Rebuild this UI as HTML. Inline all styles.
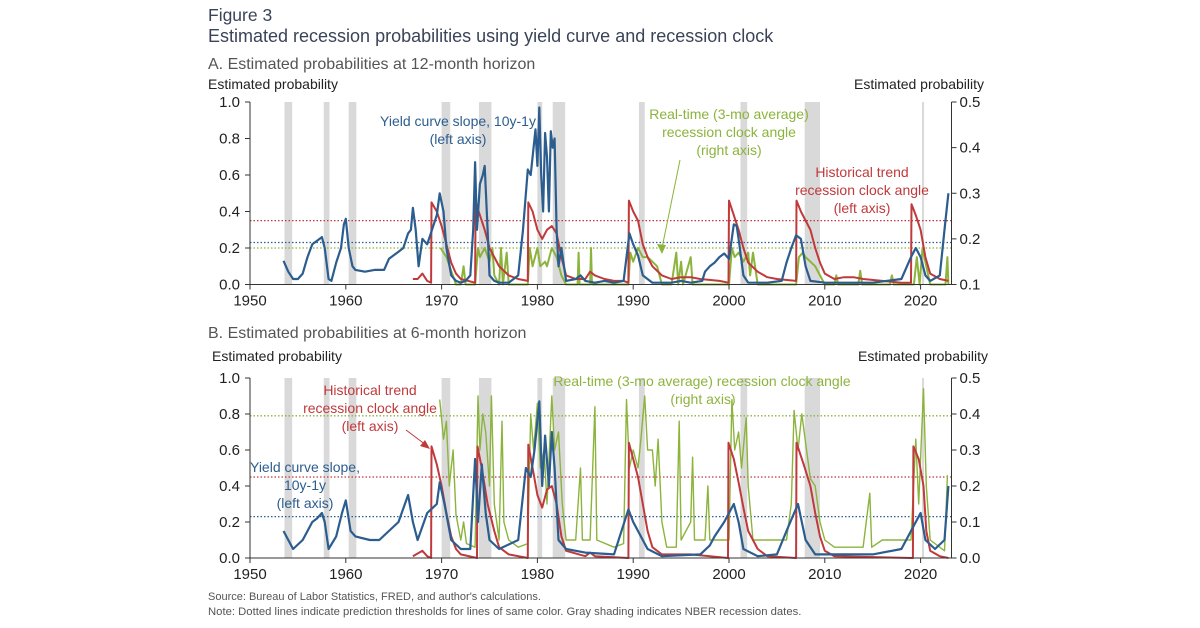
<!DOCTYPE html>
<html><head><meta charset="utf-8"><style>
html,body{margin:0;padding:0;background:#fff;}
svg{display:block;font-family:"Liberation Sans",sans-serif;}
</style></head><body>
<svg id="c" width="1200" height="628" viewBox="0 0 1200 628">
<text x="208" y="21" font-size="17.5" fill="#3a4358">Figure 3</text>
<text x="208" y="42" font-size="18" fill="#3a4358">Estimated recession probabilities using yield curve and recession clock</text>
<text x="208" y="69" font-size="16" fill="#555">A. Estimated probabilities at 12-month horizon</text>
<text x="208" y="338" font-size="16" fill="#555">B. Estimated probabilities at 6-month horizon</text>
<text x="208" y="89" font-size="14" fill="#222">Estimated probability</text>
<text x="984" y="89" font-size="14" fill="#222" text-anchor="end">Estimated probability</text>
<text x="212" y="361" font-size="14" fill="#222">Estimated probability</text>
<text x="988" y="361" font-size="14" fill="#222" text-anchor="end">Estimated probability</text>
<text x="208" y="600" font-size="11" fill="#555">Source: Bureau of Labor Statistics, FRED, and author's calculations.</text>
<text x="208" y="615" font-size="11.3" fill="#555">Note: Dotted lines indicate prediction thresholds for lines of same color. Gray shading indicates NBER recession dates.</text>
<g id="gA"></g><g id="gB"></g>
</svg>
<script>
const recessions=[[1953.6,1954.4],[1957.7,1958.3],[1960.3,1961.1],[1970.0,1970.9],[1973.9,1975.2],[1980.0,1980.5],[1981.6,1982.9],[1990.6,1991.2],[2001.2,2001.9],[2007.9,2009.5],[2020.15,2020.35]];
const xTicks=[1950,1960,1970,1980,1990,2000,2010,2020];
const leftTicks=[0,0.2,0.4,0.6,0.8,1.0];
const rightTicksA=[0.1,0.2,0.3,0.4,0.5];
const rightTicksB=[0,0.1,0.2,0.3,0.4,0.5];
// Panel A series [year, value]
const blueA=[[1953.5,.13],[1954,.07],[1954.5,.03],[1955,.03],[1955.5,.06],[1956,.15],[1956.5,.22],[1957,.24],[1957.5,.26],[1957.8,.2],[1958.2,.03],[1958.5,.02],[1959,.12],[1959.5,.2],[1959.8,.33],[1960,.36],[1960.3,.2],[1960.7,.1],[1961,.08],[1962,.07],[1963,.08],[1964,.08],[1964.5,.14],[1965,.16],[1965.5,.18],[1966,.2],[1966.5,.28],[1966.8,.3],[1967,.42],[1967.3,.3],[1967.6,.1],[1968,.25],[1968.5,.22],[1969,.3],[1969.5,.38],[1969.8,.5],[1970.2,.4],[1970.5,.2],[1971,.05],[1971.5,.02],[1972,.01],[1972.5,.02],[1973,.05],[1973.3,.3],[1973.5,.67],[1973.7,.3],[1974,.55],[1974.3,.6],[1974.5,.65],[1974.8,.3],[1975,.05],[1975.5,.02],[1976,.01],[1977,.01],[1978,.05],[1978.5,.3],[1979,.63],[1979.3,.6],[1979.5,.7],[1979.8,.85],[1980,.65],[1980.2,.97],[1980.4,.6],[1980.6,.4],[1980.8,.83],[1981,.7],[1981.2,.4],[1981.4,.84],[1981.6,.75],[1981.8,.8],[1982,.3],[1982.2,.1],[1982.5,.2],[1983,.02],[1984,.03],[1984.5,.05],[1985,.02],[1986,.01],[1987,.02],[1988,.01],[1989,.02],[1989.6,.28],[1990,.22],[1990.5,.16],[1991,.05],[1992,.01],[1994,.01],[1995,.02],[1996,.01],[1997.2,.02],[1997.5,.07],[1998,.1],[1998.5,.12],[1999,.15],[1999.5,.17],[2000,.14],[2000.5,.33],[2000.8,.32],[2001,.25],[2001.5,.05],[2002,.01],[2004,.01],[2005.5,.02],[2006,.12],[2006.5,.2],[2007,.27],[2007.5,.25],[2008,.1],[2008.5,.02],[2010,.01],[2015,.01],[2018,.03],[2019,.15],[2019.5,.2],[2020,.15],[2020.5,.05],[2021,.02],[2022,.05],[2022.5,.3],[2022.9,.5]];
const redA=[[1967,.03],[1967.5,.03],[1968,.06],[1968.5,.02],[1968.9,.01],[1968.95,.45],[1969.5,.4],[1970,.32],[1970.5,.22],[1971,.12],[1971.5,.06],[1972,.03],[1973.5,.01],[1973.55,.45],[1974,.38],[1974.5,.3],[1975,.2],[1975.5,.15],[1976,.1],[1977,.05],[1978,.03],[1979,.02],[1979.05,.45],[1979.5,.4],[1980,.3],[1980.5,.25],[1981,.3],[1981.5,.32],[1982,.28],[1982.5,.15],[1983,.05],[1984,.03],[1985,.03],[1985.5,.07],[1986,.05],[1987,.03],[1988,.02],[1989,.02],[1989.5,.01],[1989.55,.46],[1990,.4],[1990.5,.35],[1991,.22],[1991.5,.15],[1992,.1],[1993,.05],[1994,.03],[1995,.04],[1996,.04],[1997,.03],[1999,.02],[1999.95,.01],[2000,.46],[2000.5,.38],[2001,.3],[2001.5,.2],[2002,.12],[2003,.07],[2004,.04],[2005,.03],[2007,.02],[2007.05,.46],[2007.5,.4],[2008.5,.3],[2009,.2],[2009.5,.12],[2010,.06],[2011,.03],[2012,.04],[2013,.04],[2014,.03],[2016,.02],[2018,.01],[2019,.01],[2019.05,.44],[2019.5,.38],[2020,.3],[2020.5,.15],[2021,.06],[2022,.03],[2022.9,.02]];
const greenA=[[1969.9,.18],[1970.5,.16],[1971,.13],[1971.5,.1],[1972,.1],[1972.3,.14],[1972.5,.1],[1973.5,.1],[1973.8,.18],[1974,.16],[1974.5,.18],[1975,.15],[1975.3,.18],[1975.5,.12],[1976,.1],[1976.2,.18],[1976.4,.1],[1976.8,.17],[1977,.1],[1978,.1],[1979,.1],[1979.2,.18],[1979.5,.14],[1980,.18],[1980.3,.14],[1980.8,.15],[1981,.14],[1981.5,.18],[1982,.16],[1982.5,.12],[1983,.1],[1984.2,.1],[1984.3,.17],[1984.4,.1],[1985.5,.1],[1985.6,.18],[1985.7,.1],[1989.5,.1],[1989.7,.17],[1990,.15],[1990.5,.18],[1991,.16],[1991.5,.16],[1992,.15],[1992.5,.14],[1993,.1],[1994,.1],[1994.5,.17],[1994.7,.1],[1995,.15],[1995.2,.1],[1996,.16],[1996.2,.1],[2000,.1],[2000.3,.18],[2000.6,.16],[2001,.17],[2001.5,.15],[2002,.17],[2002.2,.12],[2002.5,.17],[2003,.1],[2007,.1],[2007.3,.16],[2007.7,.17],[2008,.16],[2008.5,.15],[2009,.14],[2009.5,.12],[2010,.1],[2011,.1],[2011.2,.12],[2011.4,.1],[2013.5,.1],[2013.7,.13],[2013.9,.1],[2016.8,.1],[2017,.12],[2017.2,.1],[2019.3,.1],[2019.6,.16],[2019.9,.1],[2020.2,.18],[2020.6,.14],[2021,.1],[2022.6,.1],[2022.8,.16],[2022.9,.1]];
const thresholdsA={red:.35,blue:.23,green:.18};
// Panel B series
const blueB=[[1953.5,.15],[1954,.1],[1954.5,.05],[1955.5,.1],[1956.5,.2],[1957,.22],[1957.5,.25],[1957.8,.2],[1958.2,.05],[1959,.12],[1959.6,.25],[1960,.32],[1960.5,.15],[1961,.12],[1962.5,.1],[1963.5,.1],[1964.5,.15],[1965.5,.2],[1966.5,.35],[1967,.2],[1967.5,.1],[1968.5,.25],[1969.5,.3],[1969.8,.42],[1970.3,.3],[1971,.1],[1972,.05],[1973,.05],[1973.5,.55],[1973.8,.2],[1974.2,.52],[1974.6,.25],[1975,.1],[1976,.05],[1978,.1],[1978.8,.5],[1979.3,.45],[1979.7,.6],[1980.2,.87],[1980.5,.4],[1980.8,.68],[1981.2,.4],[1981.5,.7],[1981.8,.5],[1982.2,.1],[1983,.05],[1985,.03],[1988,.02],[1989.5,.27],[1990,.2],[1990.5,.15],[1991.5,.05],[1993,.01],[1997,.02],[1998,.07],[1998.5,.12],[1999.5,.2],[2000.5,.3],[2001,.2],[2001.5,.05],[2003,.01],[2005,.02],[2006,.15],[2007.2,.3],[2008,.1],[2009,.02],[2015,.02],[2018,.05],[2019.5,.2],[2020,.25],[2020.5,.1],[2021.5,.05],[2022.5,.1],[2022.9,.4]];
const redB=[[1967,.01],[1968,.04],[1968.5,.01],[1968.9,.0],[1968.95,.62],[1969.5,.52],[1970,.4],[1970.5,.25],[1971,.12],[1971.5,.05],[1972,.02],[1973.7,.0],[1973.75,.62],[1974.2,.5],[1974.8,.3],[1975.5,.15],[1976,.06],[1977,.02],[1979,.0],[1979.05,.63],[1979.5,.5],[1980,.35],[1980.5,.28],[1981,.38],[1981.5,.4],[1982,.3],[1982.5,.12],[1983,.04],[1985,.01],[1985.5,.03],[1986,.01],[1989.5,.0],[1989.55,.64],[1990,.55],[1990.5,.45],[1991,.3],[1991.5,.15],[1992,.06],[1993,.02],[1995,.02],[1996,.02],[1999.9,.0],[1999.95,.64],[2000.5,.55],[2001,.42],[2001.5,.28],[2002,.15],[2003,.05],[2004,.01],[2007,.0],[2007.05,.64],[2007.8,.52],[2008.5,.4],[2009,.25],[2009.5,.12],[2010,.04],[2011,.01],[2019.2,.0],[2019.25,.62],[2019.8,.55],[2020.3,.4],[2020.6,.15],[2021,.04],[2022,.01],[2022.9,.0]];
const greenB=[[1969.8,.44],[1970.2,.33],[1970.5,.38],[1970.8,.2],[1971.2,.3],[1971.5,.12],[1972,.05],[1972.3,.1],[1972.6,.04],[1973.5,.03],[1973.8,.45],[1974,.3],[1974.3,.4],[1974.6,.35],[1975,.2],[1975.2,.45],[1975.5,.15],[1976,.05],[1976.3,.38],[1976.5,.1],[1977,.05],[1978,.03],[1979,.04],[1979.3,.4],[1979.6,.3],[1980,.43],[1980.3,.25],[1980.7,.3],[1981,.15],[1981.5,.45],[1981.8,.3],[1982.2,.35],[1982.6,.15],[1983,.05],[1984,.05],[1984.5,.25],[1984.7,.05],[1985.5,.05],[1986,.42],[1986.2,.05],[1988,.03],[1989,.04],[1989.3,.44],[1989.6,.25],[1990,.3],[1990.5,.25],[1990.8,.33],[1991.2,.45],[1991.5,.3],[1992,.3],[1992.3,.2],[1992.6,.33],[1993,.1],[1993.5,.03],[1994.5,.03],[1994.8,.38],[1995,.05],[1996,.1],[1996.2,.28],[1996.4,.05],[1997.5,.05],[1997.8,.2],[1998,.05],[2000,.05],[2000.3,.44],[2000.6,.3],[2001,.35],[2001.3,.25],[2001.8,.39],[2002,.2],[2002.5,.05],[2006,.05],[2006.5,.15],[2006.8,.41],[2007.2,.3],[2007.6,.4],[2008,.32],[2008.5,.22],[2009,.2],[2009.5,.1],[2010,.05],[2011,.03],[2014,.03],[2014.7,.18],[2014.9,.03],[2016,.05],[2017,.05],[2019,.05],[2019.5,.33],[2019.8,.15],[2020.3,.47],[2020.6,.2],[2021,.05],[2022.5,.02],[2022.8,.23]];
const thresholdsB={red:.45,blue:.23,green:.395};

const NS='http://www.w3.org/2000/svg';
const C={blue:'#2c5d8f',red:'#c0393b',green:'#8cb43c',band:'#d9d9d9'};
function mk(p,tag,attrs){const e=document.createElementNS(NS,tag);for(const k in attrs)e.setAttribute(k,attrs[k]);p.appendChild(e);return e;}
function panel(g,cfg){
  const x0=250,x1=951.5,y0=cfg.yBottom,y1=cfg.yTop;
  const X=yr=>x0+(yr-1950)*9.58;
  const YL=v=>y0-(v)*(y0-y1);
  const YR=v=>y0-(v-cfg.rMin)/(cfg.rMax-cfg.rMin)*(y0-y1);
  recessions.forEach(r=>{const b=mk(g,'rect',{x:X(r[0]),y:y1,width:Math.max(2,X(r[1])-X(r[0])),height:y0-y1,fill:C.band});
    
    });
  const th=[[cfg.th.red,C.red,YL],[cfg.th.blue,C.blue,YL],[cfg.th.green,C.green,YR]];
  th.forEach(t=>{const l=mk(g,'line',{x1:x0,x2:x1,y1:t[2](t[0]),y2:t[2](t[0]),stroke:t[1],'stroke-width':1.3,'stroke-dasharray':'1.5,2'});
    
    });
  const line=(d,col,Y,w,name)=>{const p=mk(g,'polyline',{points:d.map(q=>X(q[0]).toFixed(1)+','+Y(q[1]).toFixed(1)).join(' '),fill:'none',stroke:col,'stroke-width':w,'stroke-linejoin':'round'});
    
    };
  line(cfg.green,C.green,YR,cfg.gw,'green-series');
  line(cfg.red,C.red,YL,2,'red-series');
  line(cfg.blue,C.blue,YL,2.2,'blue-series');
  mk(g,'line',{x1:x0,x2:x0,y1:y1,y2:y0,stroke:'#333'});
  mk(g,'line',{x1:x1,x2:x1,y1:y1,y2:y0,stroke:'#333'});
  mk(g,'line',{x1:x0,x2:x1,y1:y0,y2:y0,stroke:'#333'});
  leftTicks.forEach(v=>{mk(g,'line',{x1:x0-5,x2:x0,y1:YL(v),y2:YL(v),stroke:'#333'});
    const t=mk(g,'text',{x:x0-10,y:YL(v)+5,'font-size':15,'text-anchor':'end',fill:'#222'});t.textContent=v.toFixed(1);
    
    });
  cfg.rt.forEach(v=>{mk(g,'line',{x1:x1,x2:x1+5,y1:YR(v),y2:YR(v),stroke:'#333'});
    const t=mk(g,'text',{x:x1+8,y:YR(v)+5,'font-size':15,fill:'#222'});t.textContent=v.toFixed(1);
    
    });
  xTicks.forEach(v=>{mk(g,'line',{x1:X(v),x2:X(v),y1:y0,y2:y0+5,stroke:'#333'});
    const t=mk(g,'text',{x:X(v),y:y0+21,'font-size':15,'text-anchor':'middle',fill:'#222'});t.textContent=v;
    
    });
}
panel(document.getElementById('gA'),{yTop:102,yBottom:284.5,rMin:.1,rMax:.5,rt:rightTicksA,blue:blueA,red:redA,green:greenA,th:thresholdsA,gw:2});
panel(document.getElementById('gB'),{yTop:378,yBottom:558,rMin:0,rMax:.5,rt:rightTicksB,blue:blueB,red:redB,green:greenB,th:thresholdsB,gw:1.4});
const svg=document.getElementById('c');
function label(lines,x,y,col,name){lines.forEach((s,i)=>{const t=mk(svg,'text',{x:x,y:y+i*18,'font-size':14,'text-anchor':'middle',fill:col});t.textContent=s;
  
  });}
label(['Yield curve slope, 10y-1y','(left axis)'],458,126,C.blue,'annotation-yield-curve-a');
label(['Real-time (3-mo average)','recession clock angle','(right axis)'],729,119,C.green,'annotation-real-time-a');
label(['Historical trend','recession clock angle','(left axis)'],862,177,C.red,'annotation-historical-a');
label(['Historical trend','recession clock angle','(left axis)'],370,395,C.red,'annotation-historical-b');
label(['Yield curve slope,','10y-1y','(left axis)'],305,472,C.blue,'annotation-yield-curve-b');
label(['Real-time (3-mo average) recession clock angle'],702,386,C.green,'annotation-real-time-b');
label(['(right axis)'],703,404,C.green,'annotation-real-time-b');
mk(svg,'line',{x1:680,y1:160,x2:662,y2:248,stroke:C.green,'stroke-width':1});
mk(svg,'path',{d:'M657,244 L662,254 L666,245 Z',fill:C.green});
mk(svg,'line',{x1:406,y1:430,x2:426,y2:445,stroke:C.red,'stroke-width':1});
mk(svg,'path',{d:'M420,446 L430,449 L425,440 Z',fill:C.red});
</script>
</body></html>
